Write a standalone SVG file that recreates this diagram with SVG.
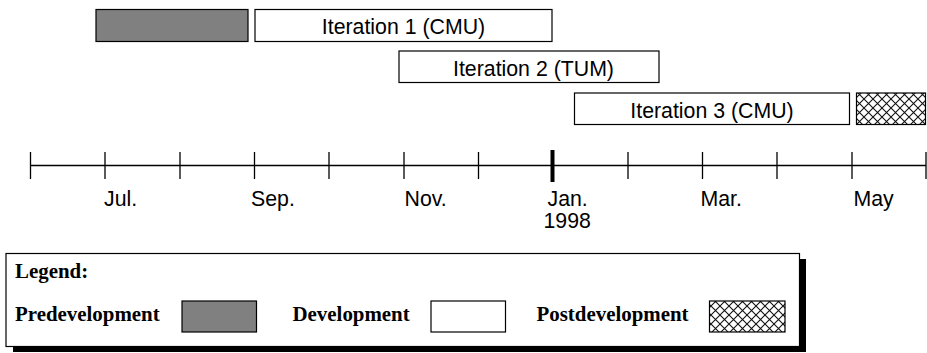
<svg xmlns="http://www.w3.org/2000/svg" width="927" height="353" viewBox="0 0 927 353">
<style>
.bar{stroke:#000;stroke-width:1.2}
.pre{fill:#808080}
.dev{fill:#fff}
.post{fill:url(#hatch)}
.lbl{font-family:"Liberation Sans",Arial,sans-serif;font-size:21.3px;fill:#000}
.leg{font-family:"Liberation Serif","Times New Roman",serif;font-size:20.9px;font-weight:bold;fill:#000}
.tick{stroke:#000;stroke-width:1.3}
</style>
<defs>
<pattern id="hatch" patternUnits="userSpaceOnUse" width="9" height="9">
<rect width="9" height="9" fill="#fff"/>
<path d="M0,0 L9,9 M9,0 L0,9" stroke="#111" stroke-width="1.1"/>
</pattern>
</defs>
<g id="predev-bar"><rect class="bar pre" x="96" y="9.5" width="152" height="32"/></g>
<g id="iteration1"><rect class="bar dev" x="255" y="9.5" width="297" height="32"/><text class="lbl" x="403.5" y="33.5" text-anchor="middle">Iteration 1 (CMU)</text></g>
<g id="iteration2"><rect class="bar dev" x="399" y="51" width="260" height="31.5"/><text class="lbl" x="533.5" y="76" text-anchor="middle">Iteration 2 (TUM)</text></g>
<g id="iteration3"><rect class="bar dev" x="574.5" y="93" width="275" height="31.5"/><text class="lbl" x="712" y="118" text-anchor="middle">Iteration 3 (CMU)</text></g>
<g id="postdev-bar"><rect class="bar post" x="856.5" y="93" width="69" height="31.5"/></g>
<g id="timeline">
<line class="tick" x1="30" y1="165.5" x2="926" y2="165.5"/>
<line class="tick" x1="30.5" y1="152" x2="30.5" y2="179"/>
<line class="tick" x1="105" y1="152" x2="105" y2="179"/>
<line class="tick" x1="180" y1="152" x2="180" y2="179"/>
<line class="tick" x1="254.5" y1="152" x2="254.5" y2="179"/>
<line class="tick" x1="329" y1="152" x2="329" y2="179"/>
<line class="tick" x1="404" y1="152" x2="404" y2="179"/>
<line class="tick" x1="478.5" y1="152" x2="478.5" y2="179"/>
<line x1="552.5" y1="150" x2="552.5" y2="182" stroke="#000" stroke-width="4"/>
<line class="tick" x1="628" y1="152" x2="628" y2="179"/>
<line class="tick" x1="702.5" y1="152" x2="702.5" y2="179"/>
<line class="tick" x1="777" y1="152" x2="777" y2="179"/>
<line class="tick" x1="852" y1="152" x2="852" y2="179"/>
<line class="tick" x1="926" y1="152" x2="926" y2="179"/>
<text class="lbl" x="104" y="206">Jul.</text>
<text class="lbl" x="251" y="206">Sep.</text>
<text class="lbl" x="404.5" y="206">Nov.</text>
<text class="lbl" x="547.5" y="206">Jan.</text>
<text class="lbl" x="543.5" y="228">1998</text>
<text class="lbl" x="700.5" y="206">Mar.</text>
<text class="lbl" x="853.5" y="206">May</text>
</g>
<g id="legend">
<rect x="13" y="259" width="793" height="93" fill="#000"/>
<rect x="6" y="253.5" width="793.5" height="93" fill="#fff" stroke="#000" stroke-width="1.2"/>
<text class="leg" x="15" y="278">Legend:</text>
<text class="leg" x="15" y="321">Predevelopment</text>
<rect class="bar pre" x="182" y="301" width="74.5" height="31"/>
<text class="leg" x="292.5" y="321">Development</text>
<rect class="bar dev" x="431" y="301" width="74.5" height="31"/>
<text class="leg" x="536.5" y="321">Postdevelopment</text>
<rect class="bar post" x="709.5" y="301" width="75.5" height="31"/>
</g>
</svg>
